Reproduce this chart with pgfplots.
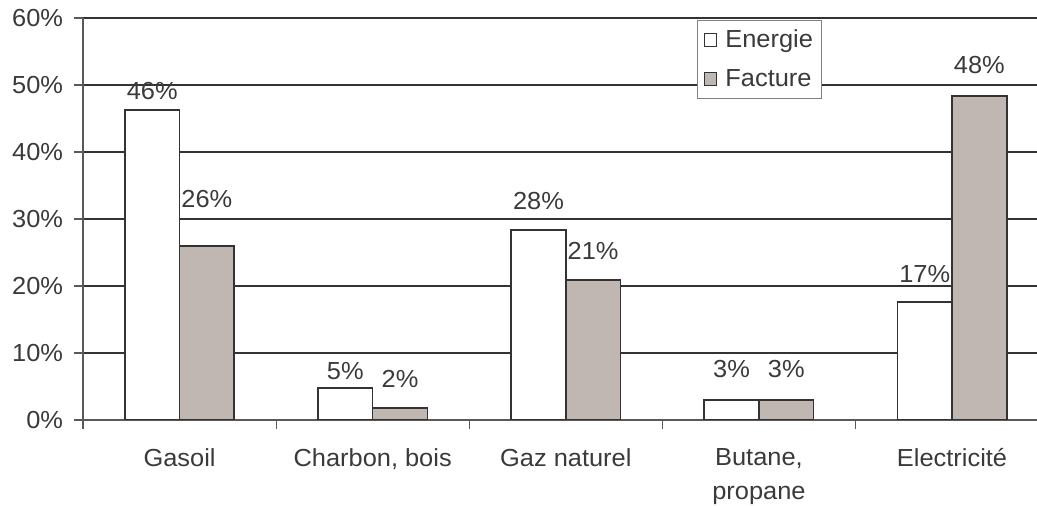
\documentclass[border=0pt]{standalone}
\usepackage{fontspec}
\setmainfont{Liberation Sans}[FakeStretch=1.03]
\usepackage{pgfplots}
\pgfplotsset{compat=1.18}

\definecolor{FactGray}{HTML}{C0B6B2}
\definecolor{EdgeGray}{HTML}{333333}
\definecolor{TxtGray}{HTML}{3A3A3A}
\newcommand{\lb}[2]{\raisebox{#1}[0pt][0pt]{#2}}
\newcommand{\chartfont}{\fontsize{18.5}{26}\selectfont}

\begin{document}
\begin{tikzpicture}
\begin{axis}[
  scale only axis,
  width=715.5pt,
  height=301.5pt,
  xmin=-0.5, xmax=4.44,
  ymin=0, ymax=60,
  ytick={0,10,...,60},
  yticklabels={0\%,10\%,20\%,30\%,40\%,50\%,60\%},
  xtick={-0.5,0.5,1.5,2.5,3.5},
  xticklabels={},
  extra x ticks={0,1,2,3,4},
  extra x tick labels={Gasoil,{Charbon, bois},Gaz naturel,{Butane,\\propane},Electricité},
  extra x tick style={major tick length=0pt,
    xticklabel style={anchor=north, inner sep=0pt, yshift=-21pt, align=center}},
  axis x line*=bottom,
  axis y line*=left,
  axis line style={-, draw=black!65, line width=0.9pt},
  tick align=outside,
  major tick length=6.75pt,
  tick style={draw=black!65, line width=0.9pt},
  ymajorgrids=true,
  grid style={draw=black!80, line width=0.8pt},
  tick label style={font=\chartfont, text=TxtGray},
  yticklabel style={anchor=east, inner sep=0pt, xshift=-8pt},
  bar width=41pt,
  nodes near coords,
  point meta=explicit symbolic,
  every node near coord/.append style={font=\chartfont, text=TxtGray, inner sep=0pt, anchor=base, yshift=15pt},
  legend style={at={(0.6436,0.995)}, anchor=north west, draw=black!50, line width=0.8pt,
    fill=white, font=\chartfont, text=TxtGray, inner xsep=4.5pt, inner ysep=5pt, row sep=11pt,
    /tikz/every odd column/.append style={column sep=4pt}},
  legend cell align=left,
  legend image code/.code={\draw[#1, line width=0.8pt] (0pt,-4.8pt) rectangle (9.6pt,4.8pt);},
]
\addplot[ybar, fill=white, draw=EdgeGray, line width=1.2pt, bar shift=-20.5pt,
  every node near coord/.append style={xshift=-20.5pt}] coordinates {
  (0,46.3) [\lb{-7.5pt}{46\%}]
  (1,4.8)  [\lb{-9pt}{5\%}]
  (2,28.4) [\lb{0pt}{28\%}]
  (3,3.0)  [\lb{2pt}{3\%}]
  (4,17.6) [\lb{0pt}{17\%}]
};
\addplot[ybar, fill=FactGray, draw=EdgeGray, line width=1.2pt, bar shift=20.5pt,
  every node near coord/.append style={xshift=20.5pt}] coordinates {
  (0,26.0) [\lb{13.5pt}{26\%}]
  (1,1.8)  [\lb{0pt}{2\%}]
  (2,20.9) [\lb{0pt}{21\%}]
  (3,3.0)  [\lb{2pt}{3\%}]
  (4,48.4) [\lb{2pt}{48\%}]
};
\legend{Energie,Facture}
\coordinate (bl) at (rel axis cs:0,0);
\coordinate (tr) at (rel axis cs:1,1);
\end{axis}
\pgfresetboundingbox
\path ([xshift=-62.25pt,yshift=-64.5pt]bl) rectangle ([yshift=13.5pt]tr);
\end{tikzpicture}
\end{document}
